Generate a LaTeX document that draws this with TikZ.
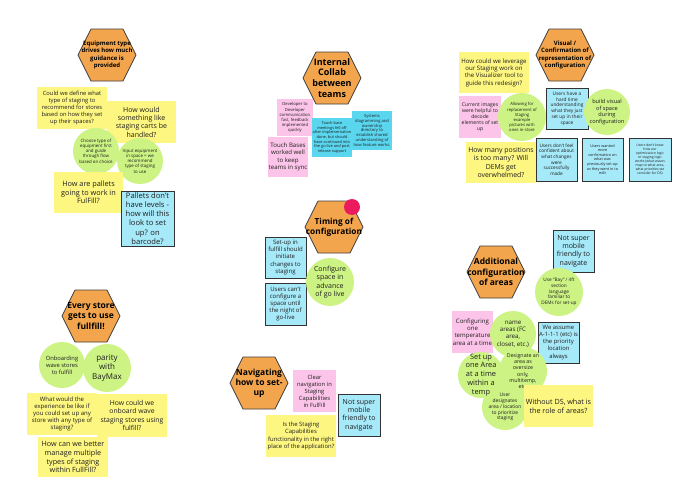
\documentclass[tikz,border=0pt]{standalone}
\usepackage{fontspec}
\setmainfont{Open Sans}
\definecolor{hexor}{HTML}{F2A54D}
\definecolor{yel}{HTML}{FDF681}
\definecolor{grn}{HTML}{CCF383}
\definecolor{pnk}{HTML}{FBC4E8}
\definecolor{lbl}{HTML}{A6E9F9}
\definecolor{cyn}{HTML}{5AD6EF}
\definecolor{rdot}{HTML}{EA1A5C}
\definecolor{txt}{HTML}{1E1E1E}
\tikzset{
  fs/.style={font={\fontsize{#1}{\dimexpr#1pt*6/5\relax}\selectfont}},
  notetext/.style={inner sep=0pt, align=center, text=txt},
  hextext/.style={inner sep=0pt, align=center, text=black},
  hexshape/.style={fill=hexor, draw=black!75, line width=0.7pt, line join=round},
  ynote/.style={fill=yel},
  pnote/.style={fill=pnk},
  cnote/.style={fill=cyn},
  bnote/.style={fill=lbl, draw=black!80, line width=0.8pt},
}
\newcommand{\note}[8]{%
  \path[#1] (#3,#4) rectangle (#5,#6);
  \node[notetext, fs=#7] (#2) at ({(#3+#5)/2},{(#4+#6)/2}) {#8};}
\newcommand{\blob}[6]{%
  \fill[grn] (#2,#3) circle (#4pt);
  \node[notetext, fs=#5] (#1) at (#2,#3) {#6};}
\newcommand{\hexa}[5]{%
  \draw[hexshape] ({#2-29},#3) -- ({#2-16},{#3-26}) -- ({#2+16},{#3-26}) -- ({#2+29},#3) -- ({#2+16},{#3+26}) -- ({#2-16},{#3+26}) -- cycle;
  \node[hextext, font={\fontsize{#4}{\dimexpr#4pt*6/5\relax}\selectfont\bfseries}] (#1) at (#2,#3) {#5};}
\begin{document}
\begin{tikzpicture}[x=1pt,y=-1pt]
\useasboundingbox (0,0) rectangle (673,498);
\fill[white] (0,0) rectangle (673,498);

% ---------- top left ----------
\hexa{h1}{107}{55}{6}{Equipment type\\drives how much\\guidance is\\provided}
\note{ynote}{y1}{37}{87}{107}{129}{5.8}{Could we define what\\type of staging to\\recommend for stores\\based on how they set\\up their spaces?}
\note{ynote}{y2}{107}{101}{176}{143}{7}{How would\\something like\\staging carts be\\handled?}
\blob{g1}{96}{151}{23}{4.4}{Choose type of\\equipment first\\and guide\\through flow\\based on choice}
\blob{g2}{140}{161}{23}{4.4}{Input equipment\\in space = we\\recommend\\type of staging\\to use}
\note{ynote}{y3}{54}{172}{123}{213}{7.3}{How are pallets\\going to work in\\FulFill?}
\note{bnote}{b1}{121}{191}{174}{246}{7.6}{Pallets don't\\have levels -\\how will this\\look to set\\up? on\\barcode?}

% ---------- top middle ----------
\hexa{h2}{332}{78}{9}{Internal\\Collab\\between\\teams}
\note{pnote}{p1}{277}{99}{313}{136}{4.2}{Developer to\\Developer\\communication\\fast, feedback\\implemented\\quickly}
\note{pnote}{p2}{268}{137}{308}{177}{6.1}{Touch Bases\\worked well\\to keep\\teams in sync}
\note{cnote}{c1}{312}{118}{352}{157}{3.9}{Touch base\\meetings fell off\\after implementation\\done, but should\\have continued into\\the go live and post\\release support}
\note{cnote}{c2}{352}{111}{392}{150}{4.1}{Systems\\diagramming and\\ownership\\directory to\\establish shared\\understanding of\\how feature works.}

% ---------- top right ----------
\hexa{h3}{565}{55}{6}{Visual /\\Confirmation of\\representation of\\configuration}
\note{ynote}{y4}{459}{52}{529}{93}{6.1}{How could we leverage\\our Staging work on\\the Visualizer tool to\\guide this redesign?}
\note{pnote}{p3}{459}{96}{501}{138}{5.1}{Current images\\were helpful to\\decode\\elements of set\\up}
\blob{g3}{522}{117}{24}{4.2}{Allowing for\\replacement of\\Staging\\example\\pictures with\\ones in-store}
\note{bnote}{b2}{546}{88}{588}{129}{4.8}{Users have a\\hard time\\understanding\\what they just\\set up in their\\space}
\blob{g4}{607}{112}{23}{5.6}{build visual\\of space\\during\\configuration}
\note{ynote}{y5}{466}{142}{536}{183}{6.9}{How many positions\\is too many? Will\\DEMs get\\overwhelmed?}
\note{bnote}{b3}{536}{138}{577}{181}{4.7}{Users don't feel\\confident about\\what changes\\were\\successfully\\made}
\note{bnote}{b4}{582}{138}{623}{181}{3.8}{Users wanted\\more\\confirmation on\\what was\\previously set-up\\as they went in to\\edit}
\note{bnote}{b5}{629}{138}{671}{181}{3.4}{Users don't know\\how our\\optimization logic\\or staging logic\\works (what waves\\map to what area,\\what priorities we\\consider for DS)}

% ---------- middle ----------
\hexa{h4}{334}{227}{8.3}{Timing of\\configuration}
\fill[rdot] (352,207) circle (8pt);
\note{bnote}{b6}{265}{237}{306}{278}{6}{Set-up in\\fulfill should\\initiate\\changes to\\staging}
\note{bnote}{b7}{265}{283}{306}{325}{6}{Users can't\\configure a\\space until\\the night of\\go-live}
\blob{g5}{330}{282}{24}{7}{Configure\\space in\\advance\\of go live}

% ---------- bottom left ----------
\hexa{h5}{91}{316}{8.5}{Every store\\gets to use\\fullfill!}
\blob{g6}{62}{365}{23}{5.8}{Onboarding\\wave stores\\to fulfill}
\blob{g7}{107}{368}{24}{8}{parity\\with\\BayMax}
\note{ynote}{y6}{27}{393}{97}{435}{6}{What would the\\experience be like if\\you could set up any\\store with any type of\\staging?}
\note{ynote}{y7}{97}{394}{167}{437}{6.8}{How could we\\onboard wave\\staging stores using\\fulfill?}
\note{ynote}{y8}{38}{437}{108}{477}{7.2}{How can we better\\manage multiple\\types of staging\\within FullFill?}

% ---------- bottom middle ----------
\hexa{h6}{259}{383}{8.5}{Navigating\\how to set-\\up}
\note{pnote}{p4}{293}{370}{336}{412}{5.8}{Clear\\navigation in\\Staging\\Capabilities\\in FulFill}
\note{bnote}{b8}{338}{394}{380}{436}{7}{Not super\\mobile\\friendly to\\navigate}
\note{ynote}{y9}{266}{415}{336}{457}{5.9}{Is the Staging\\Capabilities\\functionality in the right\\place of the application?}

% ---------- bottom right ----------
\hexa{h7}{496}{272}{8.5}{Additional\\configuration\\of areas}
\note{bnote}{b9}{553}{230}{594}{272}{7}{Not super\\mobile\\friendly to\\navigate}
\blob{g8}{559}{292}{24}{4.7}{Use “Bay” / 4ft\\section\\language\\familiar to\\DEMs for set-up}
\note{pnote}{p5}{452}{311}{493}{353}{6.1}{Configuring\\one\\temperature\\area at a time}
\blob{g9}{513}{334}{23}{6.2}{name\\areas (FC\\area,\\closet, etc.)}
\note{bnote}{b10}{538}{322}{579}{363}{5.9}{We assume\\A-1-1-1 (etc) is\\the priority\\location\\always}
\blob{g11}{523}{371}{24}{5.3}{Designate an\\area as\\oversize\\only,\\multitemp,\\etc.}
\blob{g12}{505}{407}{23}{4.9}{User\\designates\\area / location\\to prioritize\\staging}
\blob{g10}{481}{375}{23}{7.4}{Set up\\one Area\\at a time\\within a\\temp}
\note{ynote}{y10}{524}{385}{593}{427}{7.2}{Without DS, what is\\the role of areas?}
\end{tikzpicture}
\end{document}
